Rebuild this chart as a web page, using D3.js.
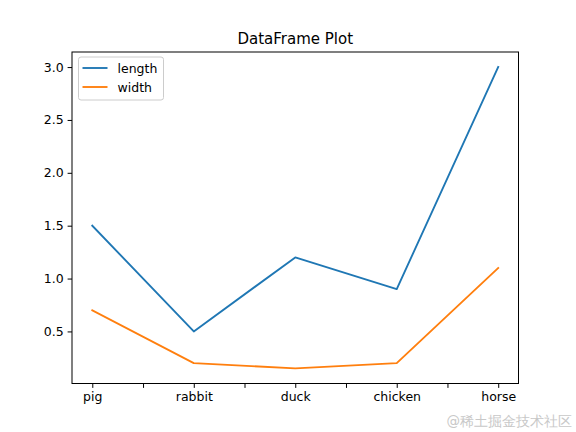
<!DOCTYPE html>
<html>
<head>
<meta charset="utf-8">
<script src="https://cdn.jsdelivr.net/npm/d3@7"></script>
<style>
body { margin: 0; background: #fff; }
text { font-family: "DejaVu Sans", sans-serif; }
</style>
</head>
<body>
<div id="chart"></div>
<script>
const categories = ["pig", "rabbit", "duck", "chicken", "horse"];
const lengthVals = [1.5, 0.5, 1.2, 0.9, 3.0];
const widthVals = [0.7, 0.2, 0.15, 0.2, 1.1];
const yTicks = [0.5, 1.0, 1.5, 2.0, 2.5, 3.0];
const seriesNames = ["length", "width"];
const colors = ["#1f77b4", "#ff7f0e"];

var W = 576, H = 432;
var margin = { top: 52, right: 57.5, bottom: 48.5, left: 72 },
	width = W - margin.left - margin.right,
	height = H - margin.top - margin.bottom;

var svg = d3.select("#chart")
	.append("svg")
	.attr("width", W)
	.attr("height", H);

var g = svg.append("g")
	.attr("transform", "translate(" + margin.left + "," + margin.top + ")");

var x = d3.scaleLinear().domain([-0.2, 4.2]).range([0, width]);
var ymin = 0.15, ymax = 3.0, pad = (ymax - ymin) * 0.05;
var y = d3.scaleLinear().domain([ymin - pad, ymax + pad]).range([height, 0]);

// x axis: ticks every half step, labels on categories
var xAxis = d3.axisBottom(x)
	.tickValues(d3.range(0, 4.01, 0.5))
	.tickSize(4.4)
	.tickPadding(4)
	.tickFormat(function (d) {
		return Number.isInteger(d) ? categories[d] : "";
	});
g.append("g")
	.attr("transform", "translate(0," + height + ")")
	.call(xAxis)
	.call(function (s) {
		s.select(".domain").remove();
		s.selectAll("text").attr("font-size", 12.5).attr("fill", "#000").attr("font-family", "DejaVu Sans");
		s.selectAll("line").attr("stroke", "#000");
	});

var yAxis = d3.axisLeft(y)
	.tickValues(yTicks)
	.tickSize(4.4)
	.tickPadding(4)
	.tickFormat(d3.format(".1f"));
g.append("g")
	.call(yAxis)
	.call(function (s) {
		s.select(".domain").remove();
		s.selectAll("text").attr("font-size", 12.5).attr("fill", "#000").attr("font-family", "DejaVu Sans");
		s.selectAll("line").attr("stroke", "#000");
	});

// lines
var line = d3.line()
	.x(function (d, i) { return x(i); })
	.y(function (d) { return y(d); });

[lengthVals, widthVals].forEach(function (vals, k) {
	g.append("path")
		.datum(vals)
		.attr("fill", "none")
		.attr("stroke", colors[k])
		.attr("stroke-width", 1.875)
		.attr("stroke-linejoin", "round")
		.attr("stroke-linecap", "square")
		.attr("d", line);
});

// frame
g.append("rect")
	.attr("width", width)
	.attr("height", height)
	.attr("fill", "none")
	.attr("stroke", "#000")
	.attr("stroke-width", 1);

// title
svg.append("text")
	.attr("x", margin.left + width / 2)
	.attr("y", margin.top - 8)
	.attr("text-anchor", "middle")
	.attr("font-size", 15)
	.text("DataFrame Plot");

// legend
var lg = g.append("g").attr("transform", "translate(6.5,5)");
lg.append("rect")
	.attr("width", 85)
	.attr("height", 43)
	.attr("rx", 2.5)
	.attr("fill", "#fff")
	.attr("fill-opacity", 0.8)
	.attr("stroke", "#ccc")
	.attr("stroke-width", 1);
seriesNames.forEach(function (name, k) {
	var yy = 11 + k * 19;
	lg.append("line")
		.attr("x1", 4).attr("x2", 29)
		.attr("y1", yy).attr("y2", yy)
		.attr("stroke", colors[k])
		.attr("stroke-width", 1.875);
	lg.append("text")
		.attr("x", 39)
		.attr("y", yy + 4.5)
		.attr("font-size", 12.5)
		.text(name);
});

// watermark
svg.append("text")
	.attr("x", 572)
	.attr("y", 426)
	.attr("text-anchor", "end")
	.attr("font-size", 13.5)
	.attr("fill", "#c8c8c8")
	.attr("font-family", "Noto Sans CJK SC, sans-serif")
	.text("@稀土掘金技术社区");
</script>
</body>
</html>
